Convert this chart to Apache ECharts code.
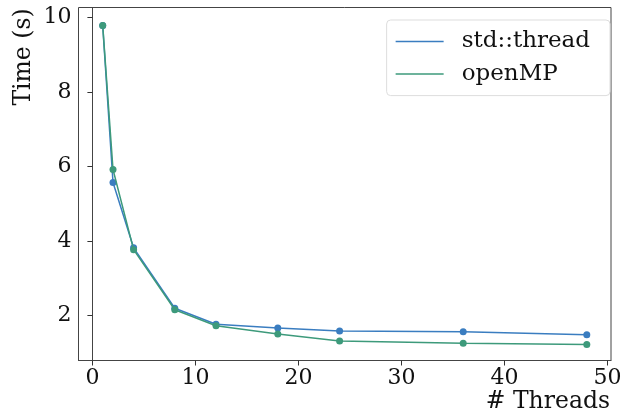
<!DOCTYPE html>
<html>
<head>
<meta charset="utf-8">
<script src="https://cdn.jsdelivr.net/npm/echarts@6/dist/echarts.min.js"></script>
<style>
  html, body { margin: 0; padding: 0; background: #fff; }
  #chart { width: 639px; height: 418px; }
</style>
</head>
<body>
<div id="chart"></div>
<script>
  // data
  var threads = [1, 2, 4, 8, 12, 18, 24, 36, 48]
  var stdThread = [9.78, 5.57, 3.82, 2.20, 1.77, 1.67, 1.59, 1.57, 1.49]
  var openMP = [9.78, 5.92, 3.77, 2.16, 1.73, 1.51, 1.32, 1.26, 1.23]
  var xTicks = [0, 10, 20, 30, 40, 50]
  var yTicks = [2, 4, 6, 8, 10]

  var font = 'DejaVu Serif'
  var blue = '#3a7dc0'
  var green = '#3d9a7b'

  function pairs(xs, ys) {
    return xs.map(function (x, i) { return [x, ys[i]] })
  }

  var chart = echarts.init(document.getElementById('chart'))
  var option = {
    animation: false,
    textStyle: { fontFamily: font },
    grid: {
      left: 78.5, right: 28, top: 7.5, bottom: 57.5,
      show: true,
      borderColor: '#444',
      borderWidth: 1
    },
    legend: {
      right: 29, top: 20,
      orient: 'vertical',
      icon: 'rect',
      itemWidth: 48,
      itemHeight: 1.5,
      itemGap: 9.6,
      padding: [10, 20, 10, 9],
      borderColor: '#ddd',
      borderWidth: 1,
      borderRadius: 4,
      backgroundColor: '#fff',
      textStyle: { fontFamily: font, fontSize: 23, lineHeight: 22, color: '#111', padding: [0, 0, 0, 13] },
      data: ['std::thread', 'openMP']
    },
    xAxis: {
      type: 'value',
      min: -1.35, max: 50.35,
      splitLine: { show: false },
      axisLine: { lineStyle: { color: '#444' } },
      axisTick: { customValues: xTicks, length: 5, lineStyle: { color: '#333' } },
      axisLabel: { customValues: xTicks, fontFamily: font, fontSize: 22, color: '#111', margin: 7 }
    },
    yAxis: {
      type: 'value',
      min: 0.8, max: 10.26,
      splitLine: { show: false },
      axisLine: { show: true, lineStyle: { color: '#444' } },
      axisTick: { show: true, customValues: yTicks, length: 5, lineStyle: { color: '#333' } },
      axisLabel: { customValues: yTicks, fontFamily: font, fontSize: 22, color: '#111', margin: 7 }
    },
    graphic: [
      {
        type: 'text', x: 24, y: 57, rotation: Math.PI / 2,
        style: { text: 'Time (s)', font: '23.5px "DejaVu Serif"', fill: '#111', align: 'center', verticalAlign: 'middle' }
      },
      {
        type: 'text', right: 29, top: 390,
        style: { text: '# Threads', font: '23.5px "DejaVu Serif"', fill: '#111' }
      }
    ],
    series: [
      {
        name: 'std::thread', type: 'line',
        data: pairs(threads, stdThread),
        color: blue,
        symbol: 'circle', symbolSize: 7,
        lineStyle: { width: 1.5 },
        z: 2
      },
      {
        name: 'openMP', type: 'line',
        data: pairs(threads, openMP),
        color: green,
        symbol: 'circle', symbolSize: 7,
        lineStyle: { width: 1.5 },
        z: 3
      }
    ]
  }
  chart.setOption(option)
</script>
</body>
</html>
